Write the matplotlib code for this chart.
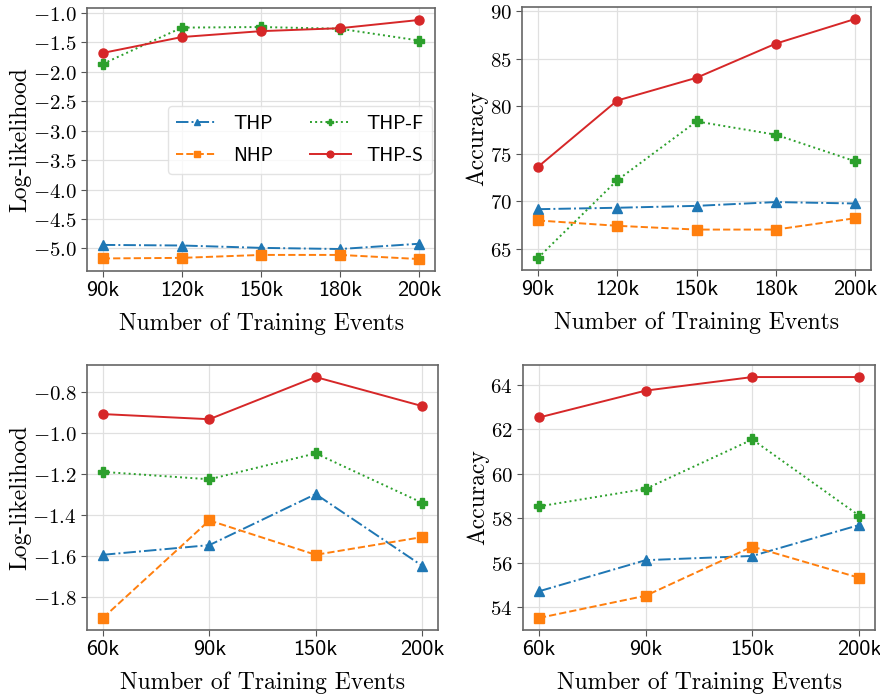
import matplotlib
matplotlib.use("Agg")
import matplotlib.pyplot as plt
from matplotlib.ticker import FuncFormatter, MultipleLocator

plt.rcParams['mathtext.fontset'] = 'cm'
plt.rcParams['axes.unicode_minus'] = True

series = ["THP", "NHP", "THP-F", "THP-S"]
colors = {"THP": "#1f77b4", "NHP": "#ff7f0e", "THP-F": "#2ca02c", "THP-S": "#d62728"}
markers = {"THP": "^", "NHP": "s", "THP-F": "P", "THP-S": "o"}
styles = {"THP": "-.", "NHP": "--", "THP-F": ":", "THP-S": "-"}

top_x = ["90k", "120k", "150k", "180k", "200k"]
bot_x = ["60k", "90k", "150k", "200k"]

tl = {
    "THP": [-4.94, -4.95, -4.99, -5.01, -4.92],
    "NHP": [-5.17, -5.16, -5.11, -5.11, -5.18],
    "THP-F": [-1.865, -1.25, -1.24, -1.27, -1.47],
    "THP-S": [-1.68, -1.41, -1.31, -1.26, -1.12],
}
tr = {
    "THP": [69.15, 69.3, 69.5, 69.9, 69.75],
    "NHP": [67.96, 67.4, 67.0, 67.0, 68.2],
    "THP-F": [64.0, 72.2, 78.4, 77.0, 74.2],
    "THP-S": [73.6, 80.6, 83.0, 86.6, 89.2],
}
bl = {
    "THP": [-1.593, -1.546, -1.298, -1.646],
    "NHP": [-1.90, -1.426, -1.593, -1.507],
    "THP-F": [-1.19, -1.226, -1.10, -1.34],
    "THP-S": [-0.909, -0.934, -0.729, -0.870],
}
br = {
    "THP": [54.72, 56.12, 56.31, 57.70],
    "NHP": [53.52, 54.52, 56.73, 55.33],
    "THP-F": [58.54, 59.33, 61.55, 58.13],
    "THP-S": [62.54, 63.75, 64.36, 64.36],
}

fig = plt.figure(figsize=(8.8, 6.96), dpi=100)
W, H = 880, 696
def box(l, r, t, b):
    return [l / W, 1 - b / H, (r - l) / W, (b - t) / H]

axes_spec = [
    (box(87, 435, 8, 271), top_x, tl, "Log-likelihood", 0.5, 1),
    (box(522, 871, 7, 270), top_x, tr, "Accuracy", 5, 0),
    (box(87, 438, 365, 630), bot_x, bl, "Log-likelihood", 0.2, 1),
    (box(523, 875, 365, 630), bot_x, br, "Accuracy", 2, 0),
]

for i, (rect, xl, data, ylab, step, dec) in enumerate(axes_spec):
    ax = fig.add_axes(rect)
    xs = list(range(len(xl)))
    for s in series:
        ax.plot(xs, data[s], linestyle=styles[s], marker=markers[s], color=colors[s],
                markersize=6.5, linewidth=1.4, label=s)
    ax.set_xticks(xs)
    ax.set_xticklabels(xl, family='cmss10', fontsize=16)
    ax.yaxis.set_major_locator(MultipleLocator(step))
    if dec:
        fmt = FuncFormatter(lambda v, p: r"$%.1f$" % v)
    else:
        fmt = FuncFormatter(lambda v, p: r"$%d$" % round(v))
    ax.yaxis.set_major_formatter(fmt)
    ax.tick_params(axis='y', labelsize=15)
    ax.tick_params(axis='both', color='#555555', length=4)
    ax.grid(True, color='#e0e0e0', linewidth=0.9)
    ax.set_axisbelow(True)
    for sp in ax.spines.values():
        sp.set_color('#666666')
        sp.set_linewidth(1.2)
    ax.set_xlabel("Number of Training Events", family='cmr10', fontsize=17, labelpad=9)
    ax.set_ylabel(ylab, family='cmr10', fontsize=17, labelpad=1)
    if i == 0:
        leg = ax.legend(ncol=2, loc='center', bbox_to_anchor=(0.612, 0.498),
                        prop={'family': 'cmss10', 'size': 14}, handlelength=2.1,
                        handletextpad=0.8, columnspacing=1.9, markerscale=0.75,
                        labelspacing=0.7, frameon=True, fancybox=True, borderpad=0.45)
        leg.get_frame().set_edgecolor('#dddddd')

fig.savefig("out.png", dpi=100)
